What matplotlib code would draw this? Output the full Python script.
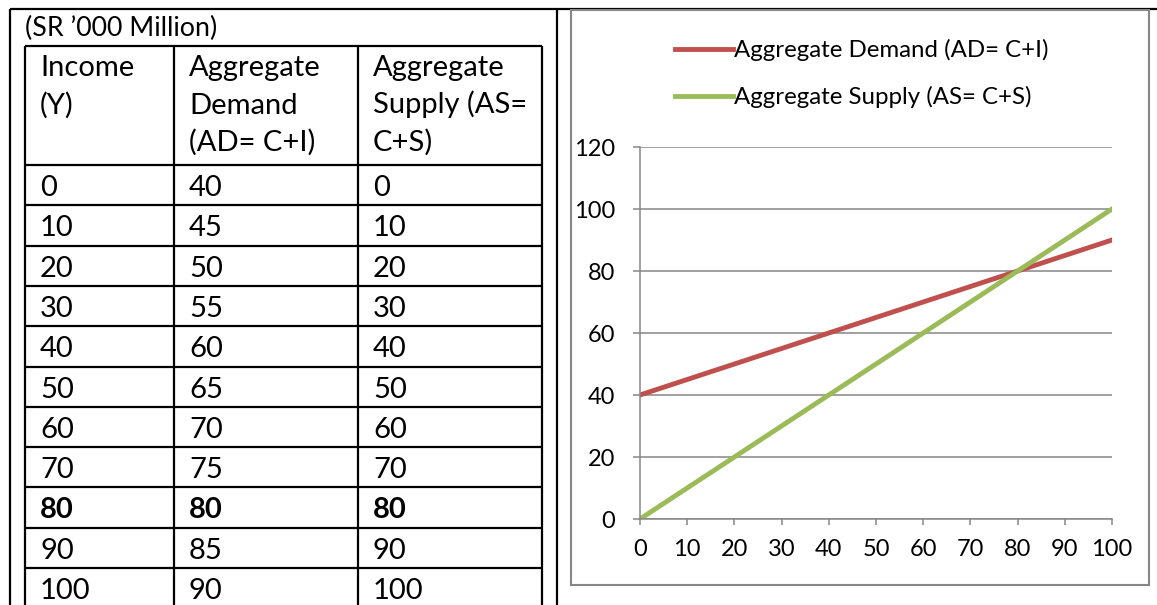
import matplotlib.pyplot as plt
from matplotlib.patches import Rectangle

plt.rcParams['font.family'] = ['Lato', 'DejaVu Sans']

# schedule values (SR '000 Million)
income = [0, 10, 20, 30, 40, 50, 60, 70, 80, 90, 100]
agg_demand = [40, 45, 50, 55, 60, 65, 70, 75, 80, 85, 90]
agg_supply = [0, 10, 20, 30, 40, 50, 60, 70, 80, 90, 100]
equilibrium = 80

unit_note = '(SR \u2019000 Million)'
col_heads = [['Income', '(Y)'],
             ['Aggregate', 'Demand', '(AD= C+I)'],
             ['Aggregate', 'Supply (AS=', 'C+S)']]
demand_label = 'Aggregate Demand (AD= C+I)'
supply_label = 'Aggregate Supply (AS= C+S)'
y_ticks = [0, 20, 40, 60, 80, 100, 120]
x_ticks = [0, 10, 20, 30, 40, 50, 60, 70, 80, 90, 100]

W, H = 1157, 605
fig = plt.figure(figsize=(W / 100, H / 100), dpi=100)

# page layer in pixel units: outer frame + table
page = fig.add_axes([0, 0, 1, 1])
page.set_xlim(0, W)
page.set_ylim(H, 0)
page.axis('off')

lw_black = 1.6
page.hlines(9, 10, W, color='black', lw=lw_black)
page.vlines([10, 557], 9, H, color='black', lw=lw_black)

page.text(25, 36, unit_note, fontsize=19.3, va='baseline', ha='left')

col_x = [25, 174, 358, 542]
head_top, head_bottom, row_h = 46, 165, 40.3
row_edges = [head_bottom + row_h * i for i in range(len(income))]
page.hlines([head_top] + row_edges, col_x[0], col_x[-1], color='black', lw=lw_black)
page.vlines(col_x, head_top, H, color='black', lw=lw_black)

for c, lines in enumerate(col_heads):
    for k, s in enumerate(lines):
        page.text(col_x[c] + 15, 76 + 37.5 * k, s, fontsize=21, va='baseline')

for i, row in enumerate(zip(income, agg_demand, agg_supply)):
    bold = row[0] == equilibrium
    for c, v in enumerate(row):
        page.text(col_x[c] + 15, row_edges[i] + 31, str(v), fontsize=21,
                  va='baseline', fontweight='bold' if bold else 'normal')

# chart frame
grey = '#868686'
fig.patches.append(Rectangle((571 / W, 1 - 585 / H), (1149 - 571) / W, (585 - 10) / H,
                             transform=fig.transFigure, fill=False,
                             edgecolor=grey, lw=1.5))

ax = fig.add_axes([640 / W, 1 - 519 / H, (1112 - 640) / W, (519 - 147) / H])
ax.plot(income, agg_demand, color='#C0504D', lw=3.5, label=demand_label)
ax.plot(income, agg_supply, color='#9BBB59', lw=3.5, label=supply_label)
ax.set_xlim(0, 100)
ax.set_ylim(0, 120)
ax.set_xticks(x_ticks)
ax.set_yticks(y_ticks)
ax.grid(axis='y', color=grey, lw=1.1)
ax.set_axisbelow(True)
for side in ['top', 'right']:
    ax.spines[side].set_visible(False)
for side in ['left', 'bottom']:
    ax.spines[side].set_color(grey)
    ax.spines[side].set_linewidth(1.1)
ax.tick_params(axis='y', length=5, width=1.1, color=grey, labelsize=17, pad=13)
ax.tick_params(axis='x', length=4.5, width=1.1, color=grey, labelsize=17, pad=10)

fig.legend(loc='upper left', bbox_to_anchor=(675 / W, 1 - 39 / H), frameon=False,
           fontsize=17.3, handlelength=2.4, handletextpad=0.05, labelspacing=1.05,
           borderpad=0, borderaxespad=0)

fig.savefig('out.png', dpi=100)
